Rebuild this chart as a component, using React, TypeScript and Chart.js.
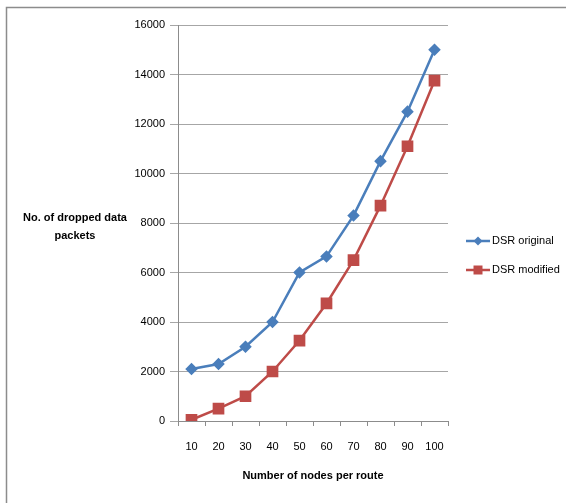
import React, { useEffect, useRef } from "react";
import { Chart, registerables } from "chart.js";

Chart.register(...registerables);

const categories = ["10", "20", "30", "40", "50", "60", "70", "80", "90", "100"];
const dsrOriginal = [2100, 2300, 3000, 4000, 6000, 6650, 8300, 10500, 12500, 15000];
const dsrModified = [50, 500, 1000, 2000, 3250, 4750, 6500, 8700, 11100, 13750];
const seriesNames = ["DSR original", "DSR modified"];
const xTitle = "Number of nodes per route";
const yTitleLines = ["No. of dropped data", "packets"];

const FONT = "'Liberation Sans', Arial, sans-serif";
const BLUE = "#4a7ebb";
const RED = "#be4b48";

const decorPlugin = {
  id: "decor",
  beforeDraw(chart: any) {
    const ctx = chart.ctx;
    ctx.save();
    ctx.fillStyle = "#ffffff";
    ctx.fillRect(0, 0, chart.width, chart.height);
    ctx.strokeStyle = "#8c8c8c";
    ctx.lineWidth = 1.5;
    ctx.beginPath();
    ctx.moveTo(6.5, chart.height);
    ctx.lineTo(6.5, 7.5);
    ctx.lineTo(chart.width, 7.5);
    ctx.stroke();
    ctx.restore();
  },
  afterDraw(chart: any) {
    const ctx = chart.ctx;
    ctx.save();
    ctx.fillStyle = "#000";
    ctx.font = `bold 11px ${FONT}`;
    ctx.textAlign = "center";
    ctx.textBaseline = "middle";
    ctx.fillText(yTitleLines[0], 75, 218);
    ctx.fillText(yTitleLines[1], 75, 236);
    ctx.font = `11px ${FONT}`;
    ctx.textAlign = "left";
    chart.data.datasets.forEach((ds: any, i: number) => {
      const y = 241 + i * 29;
      ctx.strokeStyle = ds.borderColor;
      ctx.lineWidth = 2.5;
      ctx.beginPath();
      ctx.moveTo(466, y);
      ctx.lineTo(490, y);
      ctx.stroke();
      ctx.fillStyle = ds.pointBackgroundColor;
      ctx.beginPath();
      if (ds.pointStyle === "rectRot") {
        const r = 4.5;
        ctx.moveTo(478 - r, y);
        ctx.lineTo(478, y - r);
        ctx.lineTo(478 + r, y);
        ctx.lineTo(478, y + r);
        ctx.closePath();
      } else {
        ctx.rect(478 - 4.5, y - 4.5, 9, 9);
      }
      ctx.fill();
      ctx.fillStyle = "#000";
      ctx.fillText(ds.label, 492, y);
    });
    ctx.restore();
  },
};

export default function App() {
  const ref = useRef<HTMLCanvasElement>(null);
  useEffect(() => {
    const chart = new Chart(ref.current!, {
      type: "line",
      data: {
        labels: categories,
        datasets: [
          {
            label: seriesNames[0],
            data: dsrOriginal,
            borderColor: BLUE,
            backgroundColor: BLUE,
            pointBackgroundColor: BLUE,
            pointBorderColor: BLUE,
            pointStyle: "rectRot",
            pointRadius: 4.5,
            borderWidth: 2.5,
            tension: 0,
          },
          {
            label: seriesNames[1],
            data: dsrModified,
            borderColor: RED,
            backgroundColor: RED,
            pointBackgroundColor: RED,
            pointBorderColor: RED,
            pointStyle: "rect",
            pointRadius: 6.5,
            borderWidth: 2.5,
            tension: 0,
          },
        ],
      },
      plugins: [decorPlugin],
      options: {
        animation: false,
        responsive: false,
        devicePixelRatio: 1,
        layout: { padding: { left: 118, right: 118, top: 25, bottom: 0 } },
        plugins: { legend: { display: false }, tooltip: { enabled: false } },
        scales: {
          x: {
            offset: true,
            grid: {
              offset: true,
              drawOnChartArea: false,
              drawTicks: true,
              tickLength: 5,
              color: "#8c8c8c",
            },
            border: { color: "#8c8c8c" },
            ticks: { color: "#000", font: { family: FONT, size: 11 }, padding: 14, maxRotation: 0 },
            title: {
              display: true,
              text: xTitle,
              color: "#000",
              font: { family: FONT, size: 11, weight: "bold" },
              padding: { top: 0, bottom: 20 },
            },
            afterFit: (s: any) => {
              s.height = 82;
            },
          },
          y: {
            min: 0,
            max: 16000,
            ticks: {
              stepSize: 2000,
              color: "#000",
              font: { family: FONT, size: 11 },
              padding: 5,
              callback: (v: any) => String(v),
            },
            grid: { color: "#a6a6a6", tickLength: 8, drawTicks: true },
            border: { color: "#8c8c8c" },
            afterFit: (s: any) => {
              s.width = 60;
            },
          },
        },
      },
    } as any);
    return () => chart.destroy();
  }, []);
  return (
    <div style={{ position: "fixed", left: 0, top: 0, width: 566, height: 503 }}>
      <canvas ref={ref} width={566} height={503} style={{ width: 566, height: 503 }} />
    </div>
  );
}
